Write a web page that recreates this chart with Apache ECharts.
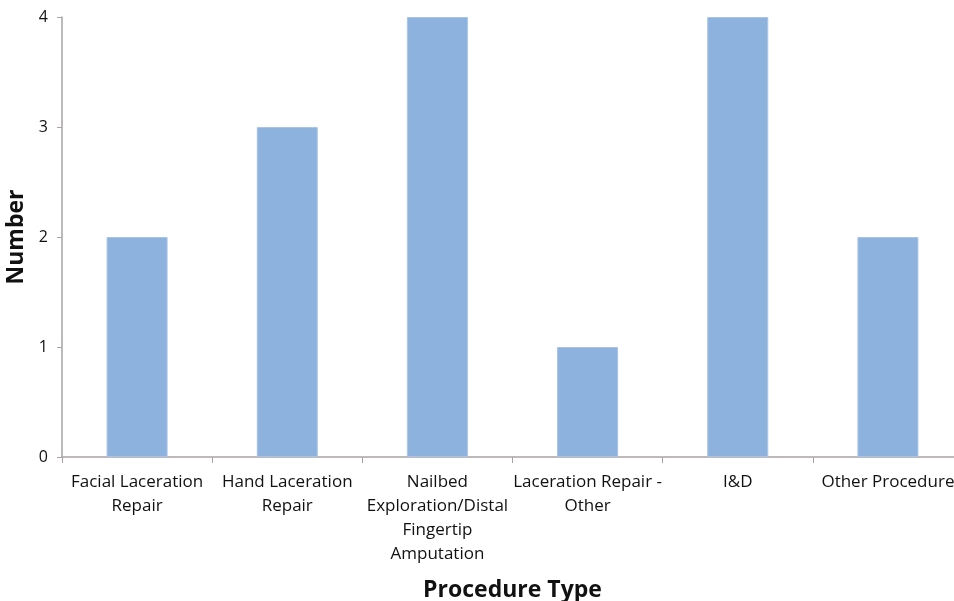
<!DOCTYPE html>
<html><head><meta charset="utf-8">
<script src="https://cdn.jsdelivr.net/npm/echarts@6/dist/echarts.min.js"></script>
<style>html,body{margin:0;padding:0;background:#fff}#c{width:954px;height:601px}</style>
</head><body><div id="c"></div>
<script>
const categories = ["Facial Laceration\nRepair", "Hand Laceration\nRepair", "Nailbed\nExploration/Distal\nFingertip\nAmputation", "Laceration Repair -\nOther", "I&D", "Other Procedure"];
const values = [2, 3, 4, 1, 4, 2];
const yTicks = [0, 1, 2, 3, 4];

const chart = echarts.init(document.getElementById('c'));
const font = '"Open Sans", "Noto Sans", sans-serif';
chart.setOption({
  animation: false,
  grid: {left: 62, top: 17, width: 901, height: 440, containLabel: false, outerBoundsMode: 'none'},
  xAxis: {
    type: 'category', data: categories,
    name: 'Procedure Type', nameLocation: 'middle', nameGap: 122,
    nameTextStyle: {fontFamily: font, fontWeight: 'bold', fontSize: 23, color: '#111'},
    axisLine: {lineStyle: {color: '#aaa3a3', width: 1.5}},
    axisTick: {show: true, length: 6, lineStyle: {color: '#aaa3a3'}, alignWithLabel: false},
    axisLabel: {interval: 0, margin: 13, fontFamily: font, fontSize: 17, color: '#111', lineHeight: 24}
  },
  yAxis: {
    type: 'value', min: yTicks[0], max: yTicks[yTicks.length - 1], interval: 1,
    name: 'Number', nameLocation: 'middle', nameGap: 32, nameRotate: 90,
    nameTextStyle: {fontFamily: font, fontWeight: 'bold', fontSize: 23, color: '#111'},
    axisLine: {show: true, lineStyle: {color: '#aaa3a3', width: 1.5}},
    axisTick: {show: true, length: 5, lineStyle: {color: '#aaa3a3'}},
    splitLine: {show: false},
    axisLabel: {margin: 14, fontFamily: font, fontSize: 16, color: '#111'}
  },
  series: [{
    type: 'bar', data: values, barWidth: 61,
    itemStyle: {color: '#8db2de', borderColor: '#a9c4e6', borderWidth: 1}
  }]
});
</script></body></html>
